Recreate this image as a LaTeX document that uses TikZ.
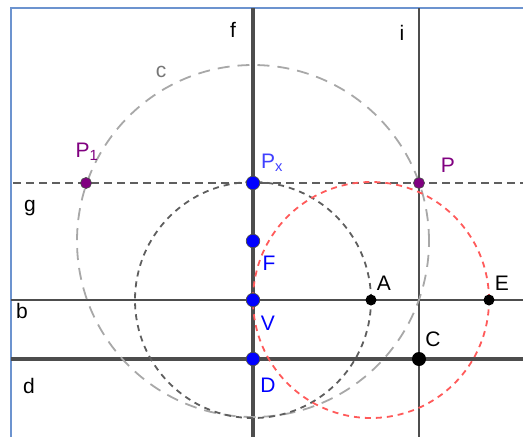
\documentclass[tikz,border=0pt]{standalone}
\usepackage{fontspec}
\setmainfont{Liberation Sans}
\usepackage{xcolor}
\usepackage{tikz}
\usetikzlibrary{positioning, calc, backgrounds}
\definecolor{ggframe}{HTML}{6C93CF}
\definecolor{ggline}{HTML}{4D4D4D}
\definecolor{ggcirc}{HTML}{A8A8A8}
\definecolor{ggdark}{HTML}{5E5E5E}
\definecolor{ggred}{HTML}{FF5A5A}
\definecolor{ggblue}{HTML}{0000FF}
\definecolor{ggpurple}{HTML}{800080}

\begin{document}
\begin{tikzpicture}[
  x=1pt, y=1pt,
  font=\fontsize{21}{23}\selectfont,
  frameline/.style={draw=ggframe, line width=2pt},
  thickline/.style={draw=ggline, line width=3.2pt},
  midline/.style={draw=ggline, line width=2.2pt},
  thinline/.style={draw=ggline, line width=1.4pt},
  dashline/.style={draw=ggline!90, line width=2.2pt, dash pattern=on 8pt off 5pt},
  bigcirc/.style={draw=ggcirc, line width=1.8pt, dash pattern=on 12pt off 8pt},
  darkcirc/.style={draw=ggdark, line width=1.8pt, dash pattern=on 6pt off 5pt},
  redcirc/.style={draw=ggred, line width=1.8pt, dash pattern=on 6pt off 5pt},
  bluept/.style={circle, fill=ggblue, draw=black!70, line width=0.7pt, inner sep=0pt, minimum size=13.5pt},
  purplept/.style={circle, fill=ggpurple, draw=black!70, line width=0.7pt, inner sep=0pt, minimum size=11pt},
  blackpt/.style={circle, fill=black, inner sep=0pt, minimum size=11pt},
  lbl/.style={inner sep=0pt, text=black},
]
\useasboundingbox (0,0) rectangle (523,-437);

% Rahmen und Geraden
\coordinate (tl) at (11,-8);
\coordinate (tr) at (523,-8);
\coordinate (bl) at (11,-437);
\coordinate (ftop) at (253,-8);
\coordinate (fbot) at (253,-437);
\coordinate (itop) at (419,-8);
\coordinate (ibot) at (419,-437);
\coordinate (gl) at (13,-183);
\coordinate (gr) at (523,-183);
\coordinate (bleft) at (11,-300);
\coordinate (bright) at (523,-300);
\coordinate (dleft) at (11,-359);
\coordinate (dright) at (523,-359);

% Punkte
\node[purplept] (P1) at (86,-183) {};
\node[bluept] (Px) at (253,-183) {};
\node[purplept] (P) at (419,-183) {};
\node[bluept] (F) at (253,-241) {};
\node[bluept] (V) at (253,-300) {};
\node[blackpt] (A) at (371,-300) {};
\node[blackpt] (E) at (489,-300) {};
\node[bluept] (D) at (253,-359) {};
\node[blackpt, minimum size=14pt] (C) at (419,-359) {};

\begin{scope}[on background layer]
\draw[frameline] (bl) -- (tl) -- (tr);
\draw[thinline] (itop) -- (ibot);
\draw[dashline] (gl) -- (gr);
\draw[midline] (bleft) -- (bright);
\draw[thickline] (dleft) -- (dright);
\draw[thickline] (ftop) -- (fbot);
% Kreise
\draw[bigcirc] (F.center) circle (176);
\draw[darkcirc] (V.center) circle (118);
\draw[redcirc] (A.center) circle (118);
\end{scope}

% Beschriftungen
\node[lbl] (lf) at (233,-30) {f};
\node[lbl] (li) at (402,-33) {i};
\node[lbl, text=ggdark!85] (lc) at (161,-72) {c};
\node[lbl] (lg) at (30,-208) {g};
\node[lbl] (lb) at (22,-311) {b};
\node[lbl] (ld) at (29,-386) {d};
\node[lbl, text=ggpurple] (lP1) at (87,-152) {P\textsubscript{1}};
\node[lbl, text=ggblue!75] (lPx) at (272,-163) {P\textsubscript{x}};
\node[lbl, text=ggpurple] (lP) at (448,-165) {P};
\node[lbl, text=ggblue] (lF) at (269,-263) {F};
\node[lbl, text=ggblue] (lV) at (268,-323) {V};
\node[lbl, text=ggblue] (lD) at (268,-385) {D};
\node[lbl] (lA) at (384,-283) {A};
\node[lbl] (lE) at (502,-283) {E};
\node[lbl] (lC) at (433,-339) {C};
\end{tikzpicture}
\end{document}
